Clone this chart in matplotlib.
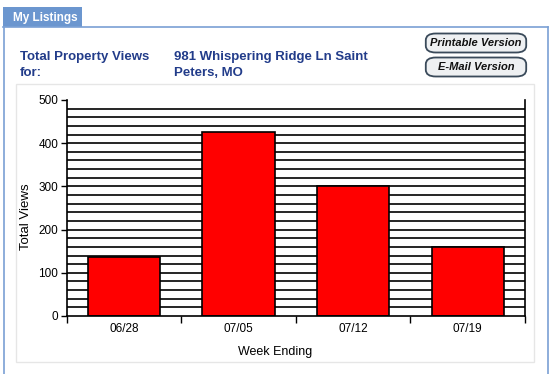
import matplotlib
matplotlib.use("Agg")
import matplotlib.pyplot as plt
from matplotlib.patches import Rectangle, FancyBboxPatch
from matplotlib.lines import Line2D
import numpy as np

# data
weeks = ["06/28", "07/05", "07/12", "07/19"]
views = [137, 425, 302, 160]

W, H = 553, 374
plt.rcParams["font.family"] = ["Liberation Sans", "DejaVu Sans"]

fig = plt.figure(figsize=(W / 100, H / 100), dpi=100)


def fx(x):
    return x / W


def fy(y):
    return 1 - y / H


# tab and panel frame
fig.patches.append(Rectangle((fx(3), fy(27)), fx(79), 20 / H, transform=fig.transFigure,
                             facecolor="#6b96cf", edgecolor="none", zorder=-2))
fig.text(fx(13), fy(17.5), "My Listings", color="white", fontsize=8.5, fontweight="bold",
         va="center", ha="left")
blue = "#7aa0d4"
fig.lines.append(Line2D([fx(3.5), fx(3.5)], [fy(27), 0], transform=fig.transFigure, color=blue, lw=1.2))
fig.lines.append(Line2D([fx(547.5), fx(547.5)], [fy(27), 0], transform=fig.transFigure, color=blue, lw=1.2))
fig.lines.append(Line2D([fx(3), fx(548)], [fy(27), fy(27)], transform=fig.transFigure, color=blue, lw=1.2))

# inner chart box
fig.patches.append(Rectangle((fx(16), fy(362)), fx(518), 278 / H, transform=fig.transFigure,
                             facecolor="white", edgecolor="#e6e6e6", lw=1, zorder=-2))

# headings
navy = "#223c8a"
fig.text(fx(20), fy(65), "Total Property Views\nfor:", color=navy, fontsize=9.5,
         fontweight="bold", va="center", ha="left", linespacing=1.4)
fig.text(fx(174), fy(65), "981 Whispering Ridge Ln Saint\nPeters, MO", color=navy, fontsize=9.5,
         fontweight="bold", va="center", ha="left", linespacing=1.4)

# buttons
for label, yc in [("Printable Version", 43), ("E-Mail Version", 67)]:
    fig.patches.append(FancyBboxPatch((fx(428), fy(yc + 8)), fx(96), 16 / H,
                                      boxstyle="round,pad=0.004,rounding_size=0.018",
                                      transform=fig.transFigure, facecolor="#eef0f2",
                                      edgecolor="#3a4a5a", lw=1.3, zorder=-1))
    fig.text(fx(476), fy(yc), label, fontsize=8, fontweight="bold", style="italic",
             ha="center", va="center", color="#111111")

# chart axes
ax_l, ax_r, ax_t, ax_b = 66.7, 525, 100, 316
ax = fig.add_axes([fx(ax_l), 1 - ax_b / H, (ax_r - ax_l) / W, (ax_b - ax_t) / H])
x = np.arange(len(weeks))
ax.set_xlim(-0.5, len(weeks) - 0.5)
ax.set_ylim(0, 500)
for g in range(20, 500, 20):
    ax.axhline(g, color="black", lw=1.2, zorder=1)
ax.bar(x, views, width=0.63, color="#ff0000", edgecolor="black", lw=1.2, zorder=2)

ax.set_yticks(range(0, 501, 100))
ax.set_xticks(np.arange(-0.5, len(weeks), 1.0))
ax.set_xticklabels([])
ax.set_xticks(x, minor=True)
ax.set_xticklabels(weeks, minor=True)
ax.tick_params(axis="x", which="minor", length=0, pad=5, labelsize=8.5)
ax.tick_params(axis="x", which="major", length=5, width=1, direction="out")
ax.tick_params(axis="y", length=4, width=1, direction="out", labelsize=8.5, pad=2)
for s in ["left", "right", "top", "bottom"]:
    ax.spines[s].set_linewidth(1.2)
ax.spines["top"].set_visible(False)
ax.set_ylabel("Total Views", fontsize=9.5)
ax.set_xlabel("Week Ending", fontsize=9)
aw, ah = ax_r - ax_l, ax_b - ax_t
ax.yaxis.set_label_coords((26 - ax_l) / aw, (ax_b - 217) / ah)
ax.xaxis.set_label_coords((275 - ax_l) / aw, (ax_b - 352) / ah)
ax.xaxis.label.set_va("center")
ax.yaxis.label.set_va("center")

fig.savefig("out.png", dpi=100)
